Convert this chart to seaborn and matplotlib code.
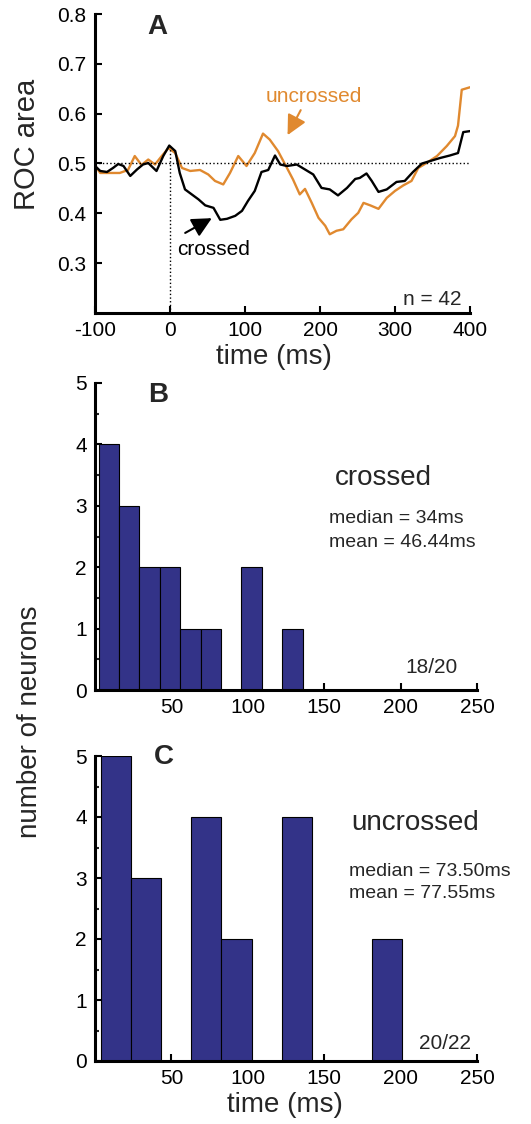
import numpy as np
import pandas as pd
import matplotlib
matplotlib.use("Agg")
import matplotlib.pyplot as plt
import seaborn as sns

# ROC time course (panel A)
time_ms = [-102, -93, -84, -76, -69, -62, -53, -44, -36, -29, -18, -9, -1, 7, 13, 20,
           29, 38, 47, 58, 67, 76, 87, 96, 104, 113, 122, 131, 140, 147, 156, 169, 180,
           191, 202, 213, 224, 236, 247, 253, 262, 269, 278, 289, 302, 313, 324, 336,
           347, 360, 373, 384, 391, 400]
roc_crossed = [0.498, 0.485, 0.483, 0.491, 0.499, 0.495, 0.475, 0.488, 0.498, 0.501,
               0.485, 0.515, 0.536, 0.525, 0.481, 0.448, 0.438, 0.428, 0.416, 0.411,
               0.387, 0.389, 0.395, 0.405, 0.425, 0.445, 0.483, 0.487, 0.516, 0.498,
               0.495, 0.498, 0.488, 0.478, 0.451, 0.448, 0.436, 0.451, 0.469, 0.471,
               0.480, 0.465, 0.443, 0.448, 0.463, 0.465, 0.483, 0.500, 0.505, 0.511,
               0.516, 0.521, 0.563, 0.565]

time_unc = [-102, -93, -80, -67, -56, -47, -38, -29, -20, -11, -2, 7, 16, 27, 40, 51,
            60, 71, 80, 91, 102, 113, 124, 133, 144, 156, 164, 173, 180, 189, 198, 207,
            213, 222, 231, 242, 251, 258, 267, 278, 289, 300, 311, 322, 331, 342, 356,
            369, 380, 384, 389, 400]
roc_uncrossed = [0.500, 0.481, 0.481, 0.481, 0.487, 0.515, 0.497, 0.508, 0.498, 0.515,
                 0.531, 0.521, 0.491, 0.485, 0.487, 0.478, 0.465, 0.458, 0.481, 0.515,
                 0.495, 0.521, 0.560, 0.548, 0.525, 0.491, 0.468, 0.438, 0.449, 0.421,
                 0.391, 0.375, 0.358, 0.365, 0.368, 0.388, 0.401, 0.421, 0.416, 0.409,
                 0.431, 0.445, 0.456, 0.465, 0.491, 0.501, 0.515, 0.535, 0.555, 0.576,
                 0.648, 0.653]

# latency histograms (panels B and C)
crossed_range = (2.4, 135.9)      # first / last bin edge, ms
crossed_counts = [4, 3, 2, 2, 1, 1, 0, 2, 0, 1]
uncrossed_range = (3.9, 201.1)
uncrossed_counts = [5, 3, 0, 4, 2, 0, 4, 0, 0, 2]

orange = "#E0892F"
navy = "#333388"

sns.set_theme(style="ticks")
plt.rcParams["font.family"] = ["Liberation Sans", "DejaVu Sans"]
plt.rcParams["xtick.direction"] = "in"
plt.rcParams["ytick.direction"] = "in"
plt.rcParams["axes.unicode_minus"] = False

fig = plt.figure(figsize=(5.31, 11.24), dpi=100)
W, H = 531, 1124


def add_axes(left, top, right, bottom):
    return fig.add_axes([left / W, 1 - bottom / H, (right - left) / W, (bottom - top) / H])


def style(ax):
    sns.despine(ax=ax)
    for s in ("left", "bottom"):
        ax.spines[s].set_linewidth(2.2)
        ax.spines[s].set_color("black")
    ax.tick_params(which="major", length=5, width=1.5, labelsize=15, pad=6, colors="black")
    ax.tick_params(which="minor", length=3, width=1.5)


# ---------------- panel A
axA = add_axes(95, 14, 470, 313)
dfA = pd.concat([
    pd.DataFrame({"time": time_ms, "roc": roc_crossed, "cond": "crossed"}),
    pd.DataFrame({"time": time_unc, "roc": roc_uncrossed, "cond": "uncrossed"}),
])
sns.lineplot(data=dfA, x="time", y="roc", hue="cond", palette={"crossed": "black", "uncrossed": orange},
             hue_order=["uncrossed", "crossed"], linewidth=1.7, legend=False, ax=axA)
axA.axhline(0.5, color="black", ls=":", lw=1)
axA.plot([0, 0], [0.2, 0.536], color="black", ls=":", lw=1)
axA.set_xlim(-100, 400)
axA.set_ylim(0.2, 0.8)
axA.set_xticks([-100, 0, 100, 200, 300, 400])
axA.set_yticks([0.3, 0.4, 0.5, 0.6, 0.7, 0.8])
axA.set_xlabel("")
axA.set_ylabel("")
style(axA)
axA.text(-17, 0.774, "A", fontsize=20, fontweight="bold", ha="center", va="center")
axA.text(127, 0.634, "uncrossed", color=orange, fontsize=15, ha="left", va="center")
axA.text(9, 0.328, "crossed", color="black", fontsize=15, ha="left", va="center")
axA.text(389, 0.228, "n = 42", fontsize=15, ha="right", va="center")
axA.annotate("", xy=(155, 0.552), xytext=(176, 0.612),
             arrowprops=dict(arrowstyle="-|>,head_length=1.0,head_width=0.5", color=orange, lw=1.5))
axA.annotate("", xy=(59, 0.393), xytext=(17, 0.358),
             arrowprops=dict(arrowstyle="-|>,head_length=1.0,head_width=0.5", color="black", lw=1.5))


# ---------------- panels B and C
def hist_panel(ax, rng, counts):
    width = (rng[1] - rng[0]) / len(counts)
    centers = rng[0] + width * (np.arange(len(counts)) + 0.5)
    df = pd.DataFrame({"t": centers, "n": counts})
    sns.histplot(data=df, x="t", weights="n", binwidth=width, binrange=rng, color=navy, alpha=1,
                 edgecolor="black", linewidth=0.8, ax=ax)
    ax.set_xlim(0, 250)
    ax.set_ylim(0, 5)
    ax.set_xticks([50, 100, 150, 200, 250])
    ax.set_yticks([0, 1, 2, 3, 4, 5])
    ax.set_yticks(np.arange(0.5, 5, 1), minor=True)
    ax.set_xlabel("")
    ax.set_ylabel("")
    style(ax)


axB = add_axes(95, 383, 477, 690)
hist_panel(axB, crossed_range, crossed_counts)
axB.text(41, 4.8, "B", fontsize=20, fontweight="bold", ha="center", va="center")
axB.text(157, 3.45, "crossed", fontsize=20, ha="left", va="center")
axB.text(153, 2.79, "median = 34ms", fontsize=14, ha="left", va="center")
axB.text(153, 2.41, "mean = 46.44ms", fontsize=14, ha="left", va="center")
axB.text(237, 0.36, "18/20", fontsize=15, ha="right", va="center")

axC = add_axes(95, 756, 477, 1061)
hist_panel(axC, uncrossed_range, uncrossed_counts)
axC.text(45, 4.98, "C", fontsize=20, fontweight="bold", ha="center", va="center")
axC.text(168, 3.9, "uncrossed", fontsize=20, ha="left", va="center")
axC.text(166, 3.11, "median = 73.50ms", fontsize=14, ha="left", va="center")
axC.text(166, 2.75, "mean = 77.55ms", fontsize=14, ha="left", va="center")
axC.text(246, 0.28, "20/22", fontsize=15, ha="right", va="center")

# axis labels
fig.text(27 / W, 1 - 144 / H, "ROC area", fontsize=21, rotation=90, ha="center", va="center")
fig.text(274 / W, 1 - 357 / H, "time (ms)", fontsize=20, ha="center", va="center")
fig.text(30 / W, 1 - 722 / H, "number of neurons", fontsize=20, rotation=90, ha="center", va="center")
fig.text(285 / W, 1 - 1105 / H, "time (ms)", fontsize=20, ha="center", va="center")

fig.savefig("out.png", dpi=100)
